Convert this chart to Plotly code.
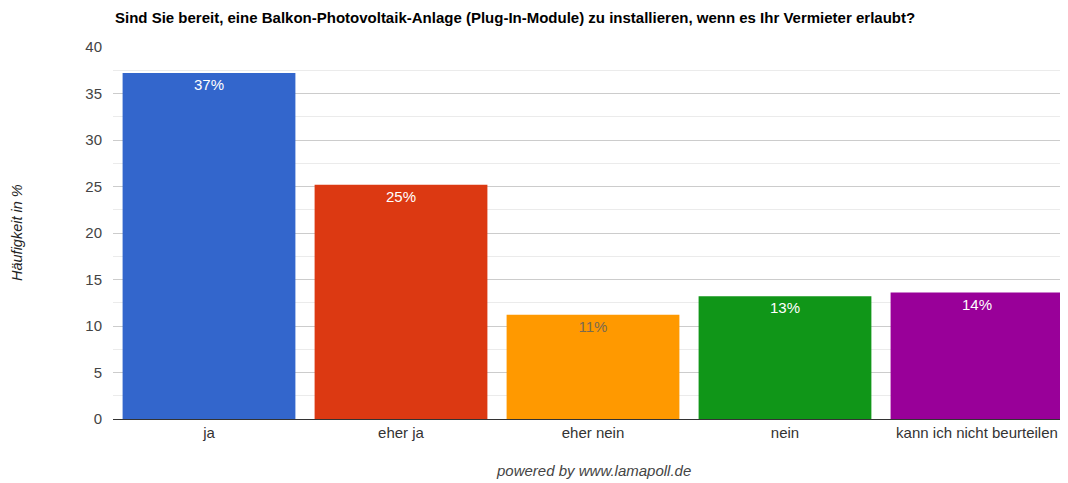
import plotly.graph_objects as go

categories = ["ja", "eher ja", "eher nein", "nein", "kann ich nicht beurteilen"]
values = [37.2, 25.2, 11.2, 13.2, 13.6]
labels = ["37%", "25%", "11%", "13%", "14%"]
colors = ["#3366CC", "#DC3912", "#FF9900", "#109618", "#990099"]
text_colors = ["#ffffff", "#ffffff", "#7a6a50", "#ffffff", "#ffffff"]

# page has an 8px body margin; work in figure coordinates = screen - 8
OFF = 8
W, H = 1068 - OFF, 483 - OFF
L, T = 113 - OFF, 47 - OFF
B = H - (419 - OFF)
ph = H - T - B

def px_x(x):
    return (x - OFF - L) / (W - L)

def px_y(y):
    return (H - B - (y - OFF)) / ph

fig = go.Figure()
fig.add_trace(go.Bar(
    x=categories, y=values, text=labels,
    marker=dict(color=colors, line=dict(width=0)),
    textposition="inside", insidetextanchor="end",
    textfont=dict(family="Arial, Liberation Sans", size=15, color=text_colors),
    textangle=0, cliponaxis=False, hoverinfo="skip",
))

fig.update_layout(
    width=W, height=H,
    margin=dict(l=L, r=0, t=T, b=B, autoexpand=False),
    paper_bgcolor="white", plot_bgcolor="white",
    bargap=0.1,
    showlegend=False,
    font=dict(family="Arial, Liberation Sans", color="#444444"),
    xaxis=dict(
        range=[-0.5, 4.474], automargin=False,
        showgrid=False, tickfont=dict(size=15, color="#333333"),
        showline=True, linecolor="#333333", linewidth=1,
        ticks="",
    ),
    yaxis=dict(
        range=[0, 40], dtick=5, automargin=False,
        tickfont=dict(size=15, color="#444444"),
        gridcolor="#cccccc", gridwidth=1, zeroline=False,
        minor=dict(dtick=2.5, showgrid=True, gridcolor="#ebebeb"),
        ticks="", ticklabelstandoff=10,
    ),
)

fig.add_annotation(
    text="<b>Sind Sie bereit, eine Balkon-Photovoltaik-Anlage (Plug-In-Module) zu installieren, wenn es Ihr Vermieter erlaubt?</b>",
    xref="paper", yref="paper", x=px_x(114), xanchor="left",
    y=px_y(8), yanchor="top", showarrow=False, borderpad=0,
    font=dict(size=15, color="#000000"),
)
fig.add_annotation(
    text="<i>Häufigkeit in %</i>", xref="paper", yref="paper",
    x=px_x(17), xanchor="center", y=px_y(233), yanchor="middle",
    textangle=-90, showarrow=False, font=dict(size=14.5, color="#222222"),
)
fig.add_annotation(
    text="<i>powered by www.lamapoll.de</i>", xref="paper", yref="paper",
    x=px_x(593), xanchor="center", y=px_y(470), yanchor="middle",
    showarrow=False, font=dict(size=15, color="#444444"),
)

fig.write_html("out.html")
